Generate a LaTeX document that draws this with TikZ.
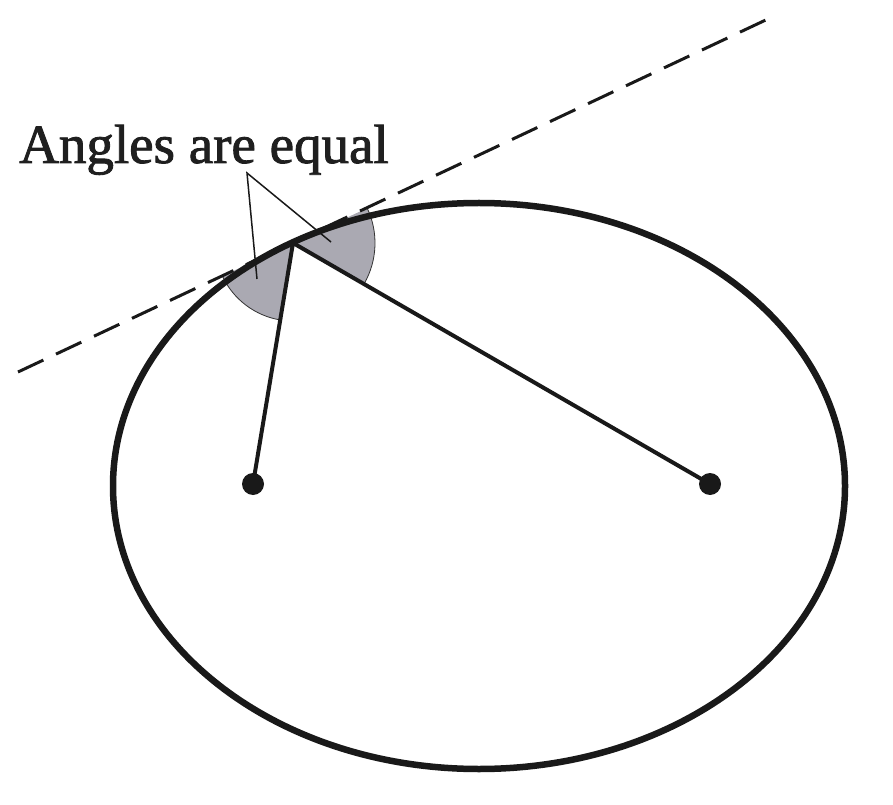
\documentclass[tikz,border=0pt]{standalone}
\usepackage{fontspec}
\setmainfont{Liberation Serif}
\newfontfamily\labelfont[FakeBold=1.6]{Liberation Serif}
\definecolor{wedgegray}{RGB}{170,169,178}
\tikzset{
  ellipseline/.style={line width=6.5pt, black!90},
  focalline/.style={line width=4pt, black!90},
  tangentline/.style={line width=3pt, black!90, dash pattern=on 28pt off 14pt},
  pointerline/.style={line width=1.5pt, black!90},
  focusdot/.style={circle, fill=black!90, inner sep=0pt, minimum size=22pt},
}
\begin{document}
\begin{tikzpicture}[x=1pt,y=1pt]
\useasboundingbox (0,0) rectangle (893,804);
% key points (y measured upward)
\coordinate (T) at (293,561);
\coordinate (C) at (479,318);
\coordinate (A) at (18,432);
\coordinate (B) at (770,786);
\coordinate (P) at (247,631);
\coordinate (PL) at (257,525);
\coordinate (PR) at (331,562);
% wedges
\fill[wedgegray] (T) -- ++(205.1:78) arc[start angle=205.1, end angle=260.6, radius=78] -- cycle;
\draw[black!80, line width=0.8pt] (T) ++(205.1:78) arc[start angle=205.1, end angle=260.6, radius=78];
\fill[wedgegray] (T) -- ++(25.2:82) arc[start angle=25.2, end angle=-30.0, radius=82] -- cycle;
\draw[black!80, line width=0.8pt] (T) ++(25.2:82) arc[start angle=25.2, end angle=-30.0, radius=82];
% ellipse
\draw[ellipseline] (C) ellipse[x radius=366, y radius=283];
% tangent
\draw[tangentline] (A) -- (B);
% foci
\node[focusdot] (F1) at (253,320) {};
\node[focusdot] (F2) at (710,320) {};
\draw[focalline] (F1.center) -- (T) -- (F2.center);
% label
\node[anchor=base west, inner sep=0pt, font=\labelfont\fontsize{55}{60}\selectfont, text=black!88] (L) at (19,641) {Angles are equal};
\draw[pointerline] (PL) -- (P) -- (PR);
\end{tikzpicture}
\end{document}
